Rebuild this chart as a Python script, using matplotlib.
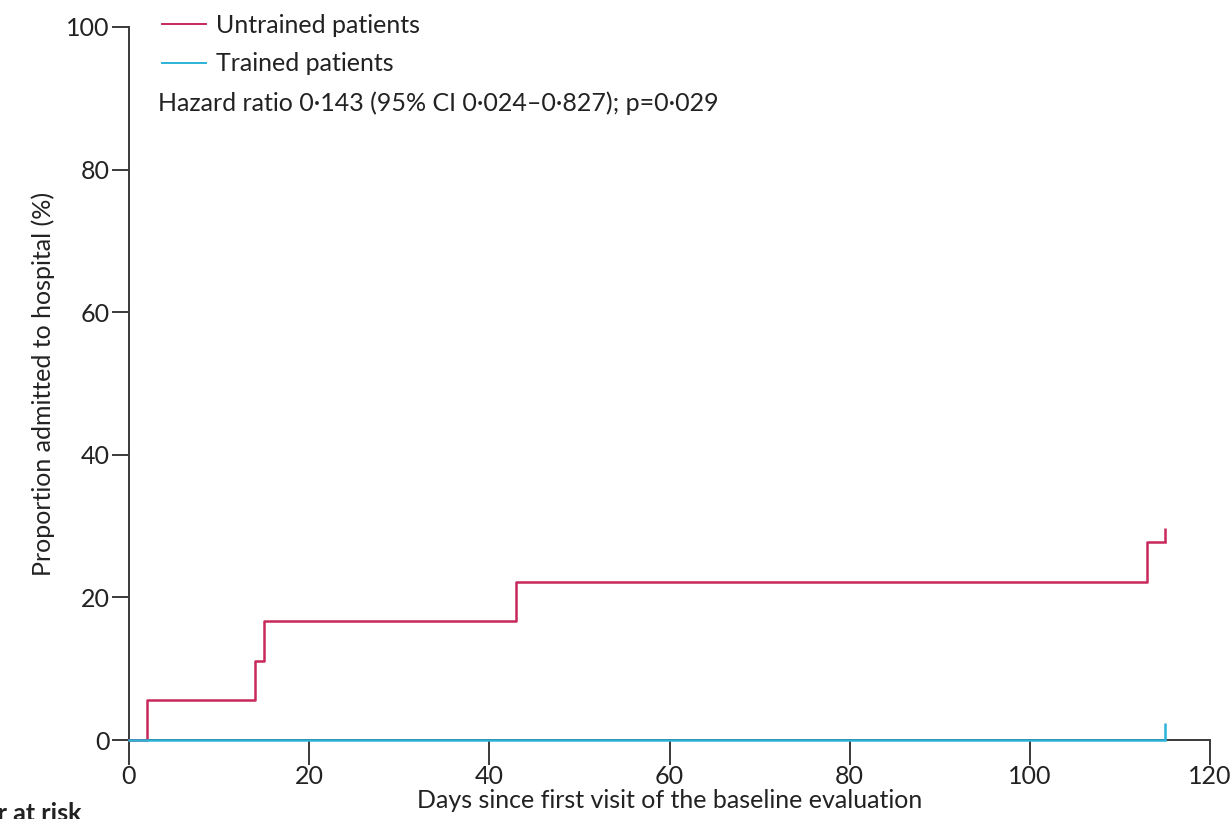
import matplotlib.pyplot as plt
from matplotlib.lines import Line2D

plt.rcParams['font.family'] = ['Lato', 'DejaVu Sans']

# cumulative admissions (%) at event times, days since baseline visit
untrained_days = [0, 2, 14, 15, 43, 113, 115]
untrained_pct = [0, 5.6, 11.1, 16.7, 22.2, 27.8, 27.8]
trained_days = [0, 115]
trained_pct = [0, 0]
censor_day = 115

red = '#c8285a'
blue = '#2bb3d8'
dark = '#3a3a3a'
txt = '#222222'

fig = plt.figure(figsize=(12.31, 8.19), dpi=100)
ax = fig.add_axes([129/1231, 79/819, 1081/1231, 713/819])

ax.step(untrained_days, untrained_pct, where='post', color=red, lw=1.8,
        zorder=3, clip_on=False)
ax.step(trained_days, trained_pct, where='post', color=blue, lw=1.8,
        zorder=4, clip_on=False)
# censor marks
ax.plot([censor_day], [untrained_pct[-1]], marker=2, color=red, ms=10, mew=1.8,
        zorder=3, clip_on=False)
ax.plot([censor_day], [trained_pct[-1]], marker=2, color=blue, ms=12, mew=1.8,
        zorder=4, clip_on=False)

ax.set_xlim(0, 120)
ax.set_ylim(0, 100)
ax.set_xticks(range(0, 121, 20))
ax.set_yticks(range(0, 101, 20))
for s in ['top', 'right']:
    ax.spines[s].set_visible(False)
for s in ['left', 'bottom']:
    ax.spines[s].set_color(dark)
    ax.spines[s].set_linewidth(1.4)
    ax.spines[s].set_zorder(1)
ax.tick_params(colors=dark, width=1.4, length=12, labelsize=18, pad=2,
               labelcolor=txt)
ax.tick_params(axis='x', length=18, pad=0)

ax.set_xlabel('Days since first visit of the baseline evaluation', fontsize=18,
              color=txt, labelpad=1)
ax.set_ylabel('Proportion admitted to hospital (%)', fontsize=18,
              color=txt, labelpad=8)

handles = [Line2D([], [], color=red, lw=1.4), Line2D([], [], color=blue, lw=1.4)]
ax.legend(handles, ['Untrained patients', 'Trained patients'], loc='upper left',
          bbox_to_anchor=(0.010, 1.05), frameon=False, fontsize=18,
          handlelength=1.75, handletextpad=0.4, labelspacing=0.62,
          labelcolor=txt)
ax.text(0.027, 0.893, 'Hazard ratio 0·143 (95% CI 0·024–0·827); p=0·029',
        transform=ax.transAxes, fontsize=18, color=txt, va='center')

fig.text(82/1231, -6/819, 'Number at risk', fontsize=18, fontweight='bold',
         color=txt, ha='right', va='bottom')

fig.savefig('out.png', dpi=100)
